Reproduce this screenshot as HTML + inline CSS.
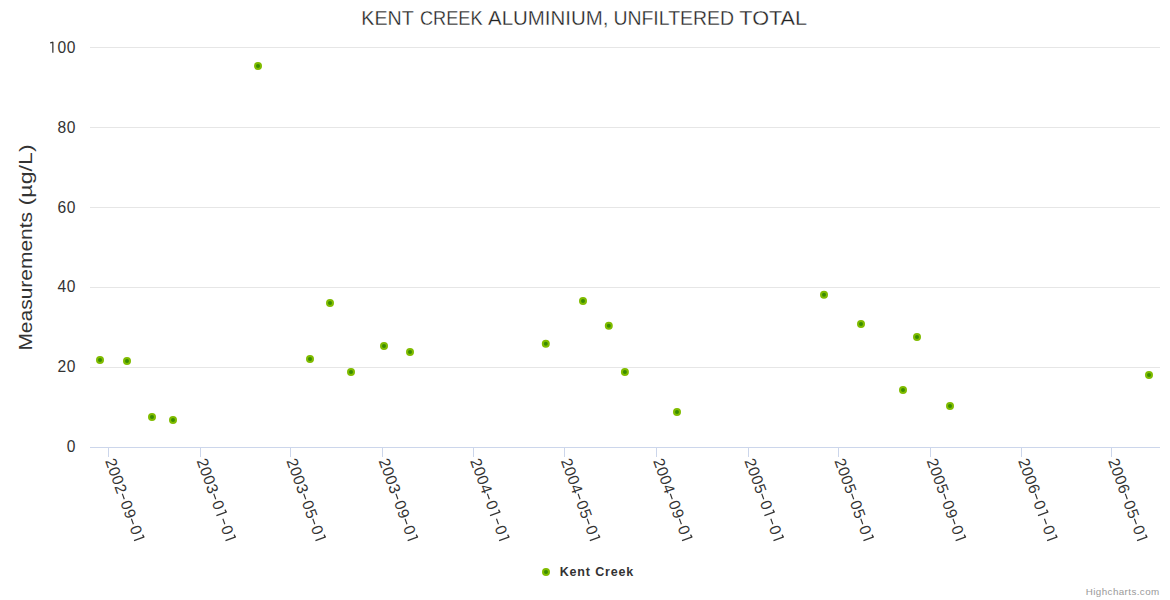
<!DOCTYPE html>
<html><head><meta charset="utf-8"><style>
html,body{margin:0;padding:0;background:#fff;width:1170px;height:600px;overflow:hidden}
svg{display:block}
text{font-family:"Liberation Sans",sans-serif;fill:#333}
.ttl text{font-size:20px;fill:#222;stroke:#fff;stroke-width:0.3}
.dg{font-size:15.6px}
.hy{stroke:#333;stroke-width:1.15;fill:none}
.one{stroke:#333;stroke-width:1.25;fill:none}
</style></head><body>
<svg width="1170" height="600" viewBox="0 0 1170 600">
<rect width="1170" height="600" fill="#fff"/>
<g class="ttl"><text x="361.3" y="25" textLength="52.4" lengthAdjust="spacingAndGlyphs">KENT</text><text x="419.9" y="25" textLength="62.7" lengthAdjust="spacingAndGlyphs">CREEK</text><text x="488" y="25" textLength="120.5" lengthAdjust="spacingAndGlyphs">ALUMINIUM,</text><text x="613.4" y="25" textLength="120.7" lengthAdjust="spacingAndGlyphs">UNFILTERED</text><text x="739.3" y="25" textLength="67.8" lengthAdjust="spacingAndGlyphs">TOTAL</text></g>
<g transform="translate(32.2 0) rotate(-90)"><text x="-350.6" y="0" style="font-size:19px" textLength="138.6" lengthAdjust="spacingAndGlyphs">Measurements</text><text x="-205.4" y="0" style="font-size:19px" textLength="61" lengthAdjust="spacingAndGlyphs">(µg/L)</text></g>
<path d="M90 47.5H1160" stroke="#e6e6e6" stroke-width="1"/>
<path d="M90 127.5H1160" stroke="#e6e6e6" stroke-width="1"/>
<path d="M90 207.5H1160" stroke="#e6e6e6" stroke-width="1"/>
<path d="M90 287.5H1160" stroke="#e6e6e6" stroke-width="1"/>
<path d="M90 367.5H1160" stroke="#e6e6e6" stroke-width="1"/>
<path d="M90 447.5H1160" stroke="#ccd6eb" stroke-width="1"/>
<path d="M108.5 447V457" stroke="#ccd6eb" stroke-width="1"/>
<path d="M200.5 447V457" stroke="#ccd6eb" stroke-width="1"/>
<path d="M290.5 447V457" stroke="#ccd6eb" stroke-width="1"/>
<path d="M382.5 447V457" stroke="#ccd6eb" stroke-width="1"/>
<path d="M473.5 447V457" stroke="#ccd6eb" stroke-width="1"/>
<path d="M564.5 447V457" stroke="#ccd6eb" stroke-width="1"/>
<path d="M656.5 447V457" stroke="#ccd6eb" stroke-width="1"/>
<path d="M748.5 447V457" stroke="#ccd6eb" stroke-width="1"/>
<path d="M838.5 447V457" stroke="#ccd6eb" stroke-width="1"/>
<path d="M930.5 447V457" stroke="#ccd6eb" stroke-width="1"/>
<path d="M1021.5 447V457" stroke="#ccd6eb" stroke-width="1"/>
<path d="M1111.5 447V457" stroke="#ccd6eb" stroke-width="1"/>
<g transform="translate(66.51 451.90)"><text transform="scale(1.0 1.0)" x="0.25" y="0" class="dg">0</text></g>
<g transform="translate(57.34 371.90)"><text transform="scale(1.0 1.0)" x="0.25 9.42" y="0" class="dg">20</text></g>
<g transform="translate(57.34 291.90)"><text transform="scale(1.0 1.0)" x="0.25 9.42" y="0" class="dg">40</text></g>
<g transform="translate(57.34 212.83)"><text transform="scale(1.0 1.0)" x="0.25 9.42" y="0" class="dg">60</text></g>
<g transform="translate(57.34 132.83)"><text transform="scale(1.0 1.0)" x="0.25 9.42" y="0" class="dg">80</text></g>
<g transform="translate(48.17 52.83)"><text transform="scale(1.0 1.0)" x="9.42 18.59" y="0" class="dg">00</text><path d="M4.68 0V-10.9M5.04 -10.6L1.98 -10.00" class="one"/></g>
<g transform="translate(104.85 460.40) rotate(70)"><text transform="scale(1.0 1.0)" x="0.25 9.42 18.59 27.76 45.19 54.36 71.79" y="0" class="dg">2002090</text><path d="M37.31 -5H43.11" class="hy"/><path d="M63.91 -5H69.71" class="hy"/><path d="M85.39 0V-10.9M85.75 -10.6L82.70 -10.00" class="one"/></g>
<g transform="translate(196.30 460.40) rotate(70)"><text transform="scale(1.0 1.0)" x="0.25 9.42 18.59 27.76 45.19 71.79" y="0" class="dg">200300</text><path d="M37.31 -5H43.11" class="hy"/><path d="M58.80 0V-10.9M59.15 -10.6L56.09 -10.00" class="one"/><path d="M63.91 -5H69.71" class="hy"/><path d="M85.39 0V-10.9M85.75 -10.6L82.70 -10.00" class="one"/></g>
<g transform="translate(286.26 460.40) rotate(70)"><text transform="scale(1.0 1.0)" x="0.25 9.42 18.59 27.76 45.19 54.36 71.79" y="0" class="dg">2003050</text><path d="M37.31 -5H43.11" class="hy"/><path d="M63.91 -5H69.71" class="hy"/><path d="M85.39 0V-10.9M85.75 -10.6L82.70 -10.00" class="one"/></g>
<g transform="translate(378.46 460.40) rotate(70)"><text transform="scale(1.0 1.0)" x="0.25 9.42 18.59 27.76 45.19 54.36 71.79" y="0" class="dg">2003090</text><path d="M37.31 -5H43.11" class="hy"/><path d="M63.91 -5H69.71" class="hy"/><path d="M85.39 0V-10.9M85.75 -10.6L82.70 -10.00" class="one"/></g>
<g transform="translate(469.92 460.40) rotate(70)"><text transform="scale(1.0 1.0)" x="0.25 9.42 18.59 27.76 45.19 71.79" y="0" class="dg">200400</text><path d="M37.31 -5H43.11" class="hy"/><path d="M58.80 0V-10.9M59.15 -10.6L56.09 -10.00" class="one"/><path d="M63.91 -5H69.71" class="hy"/><path d="M85.39 0V-10.9M85.75 -10.6L82.70 -10.00" class="one"/></g>
<g transform="translate(560.62 460.40) rotate(70)"><text transform="scale(1.0 1.0)" x="0.25 9.42 18.59 27.76 45.19 54.36 71.79" y="0" class="dg">2004050</text><path d="M37.31 -5H43.11" class="hy"/><path d="M63.91 -5H69.71" class="hy"/><path d="M85.39 0V-10.9M85.75 -10.6L82.70 -10.00" class="one"/></g>
<g transform="translate(652.83 460.40) rotate(70)"><text transform="scale(1.0 1.0)" x="0.25 9.42 18.59 27.76 45.19 54.36 71.79" y="0" class="dg">2004090</text><path d="M37.31 -5H43.11" class="hy"/><path d="M63.91 -5H69.71" class="hy"/><path d="M85.39 0V-10.9M85.75 -10.6L82.70 -10.00" class="one"/></g>
<g transform="translate(744.28 460.40) rotate(70)"><text transform="scale(1.0 1.0)" x="0.25 9.42 18.59 27.76 45.19 71.79" y="0" class="dg">200500</text><path d="M37.31 -5H43.11" class="hy"/><path d="M58.80 0V-10.9M59.15 -10.6L56.09 -10.00" class="one"/><path d="M63.91 -5H69.71" class="hy"/><path d="M85.39 0V-10.9M85.75 -10.6L82.70 -10.00" class="one"/></g>
<g transform="translate(834.24 460.40) rotate(70)"><text transform="scale(1.0 1.0)" x="0.25 9.42 18.59 27.76 45.19 54.36 71.79" y="0" class="dg">2005050</text><path d="M37.31 -5H43.11" class="hy"/><path d="M63.91 -5H69.71" class="hy"/><path d="M85.39 0V-10.9M85.75 -10.6L82.70 -10.00" class="one"/></g>
<g transform="translate(926.44 460.40) rotate(70)"><text transform="scale(1.0 1.0)" x="0.25 9.42 18.59 27.76 45.19 54.36 71.79" y="0" class="dg">2005090</text><path d="M37.31 -5H43.11" class="hy"/><path d="M63.91 -5H69.71" class="hy"/><path d="M85.39 0V-10.9M85.75 -10.6L82.70 -10.00" class="one"/></g>
<g transform="translate(1017.89 460.40) rotate(70)"><text transform="scale(1.0 1.0)" x="0.25 9.42 18.59 27.76 45.19 71.79" y="0" class="dg">200600</text><path d="M37.31 -5H43.11" class="hy"/><path d="M58.80 0V-10.9M59.15 -10.6L56.09 -10.00" class="one"/><path d="M63.91 -5H69.71" class="hy"/><path d="M85.39 0V-10.9M85.75 -10.6L82.70 -10.00" class="one"/></g>
<g transform="translate(1107.85 460.40) rotate(70)"><text transform="scale(1.0 1.0)" x="0.25 9.42 18.59 27.76 45.19 54.36 71.79" y="0" class="dg">2006050</text><path d="M37.31 -5H43.11" class="hy"/><path d="M63.91 -5H69.71" class="hy"/><path d="M85.39 0V-10.9M85.75 -10.6L82.70 -10.00" class="one"/></g>
<circle cx="100" cy="360" r="3" fill="#3a8c00" stroke="#80bc00" stroke-width="2"/>
<circle cx="127" cy="361" r="3" fill="#3a8c00" stroke="#80bc00" stroke-width="2"/>
<circle cx="152" cy="417" r="3" fill="#3a8c00" stroke="#80bc00" stroke-width="2"/>
<circle cx="173" cy="420" r="3" fill="#3a8c00" stroke="#80bc00" stroke-width="2"/>
<circle cx="258" cy="66" r="3" fill="#3a8c00" stroke="#80bc00" stroke-width="2"/>
<circle cx="310" cy="359" r="3" fill="#3a8c00" stroke="#80bc00" stroke-width="2"/>
<circle cx="330" cy="303" r="3" fill="#3a8c00" stroke="#80bc00" stroke-width="2"/>
<circle cx="351" cy="372" r="3" fill="#3a8c00" stroke="#80bc00" stroke-width="2"/>
<circle cx="384" cy="346" r="3" fill="#3a8c00" stroke="#80bc00" stroke-width="2"/>
<circle cx="410" cy="352" r="3" fill="#3a8c00" stroke="#80bc00" stroke-width="2"/>
<circle cx="545.8" cy="343.8" r="3" fill="#3a8c00" stroke="#80bc00" stroke-width="2"/>
<circle cx="583" cy="300.9" r="3" fill="#3a8c00" stroke="#80bc00" stroke-width="2"/>
<circle cx="608.8" cy="325.8" r="3" fill="#3a8c00" stroke="#80bc00" stroke-width="2"/>
<circle cx="624.9" cy="371.9" r="3" fill="#3a8c00" stroke="#80bc00" stroke-width="2"/>
<circle cx="677" cy="412" r="3" fill="#3a8c00" stroke="#80bc00" stroke-width="2"/>
<circle cx="824" cy="294.8" r="3" fill="#3a8c00" stroke="#80bc00" stroke-width="2"/>
<circle cx="861" cy="323.9" r="3" fill="#3a8c00" stroke="#80bc00" stroke-width="2"/>
<circle cx="903" cy="390" r="3" fill="#3a8c00" stroke="#80bc00" stroke-width="2"/>
<circle cx="917" cy="337" r="3" fill="#3a8c00" stroke="#80bc00" stroke-width="2"/>
<circle cx="950" cy="406" r="3" fill="#3a8c00" stroke="#80bc00" stroke-width="2"/>
<circle cx="1149" cy="375" r="3" fill="#3a8c00" stroke="#80bc00" stroke-width="2"/>
<circle cx="546" cy="572" r="3" fill="#3a8c00" stroke="#80bc00" stroke-width="2"/>
<text x="559.7" y="576" style="font-size:12.5px;font-weight:bold" textLength="73.6" lengthAdjust="spacing">Kent Creek</text>
<text x="1085.8" y="594.6" style="font-size:9.8px;fill:#999" textLength="73.4" lengthAdjust="spacing">Highcharts.com</text>
</svg>
</body></html>
